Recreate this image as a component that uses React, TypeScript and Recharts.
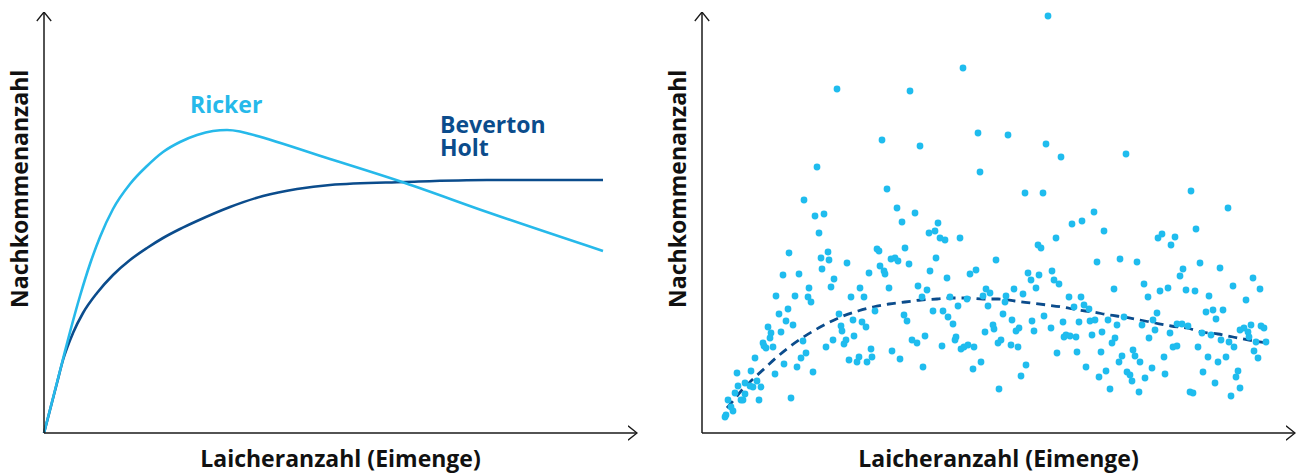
import {
  ComposedChart,
  LineChart,
  Line,
  Scatter,
  XAxis,
  YAxis,
  ZAxis,
  Label,
  ReferenceDot,
} from "recharts";

// Arbitrary units: spawners (x) and recruits (y).
const X_MAX = 593;
const Y_MAX = 421;

// Left panel: the two stock–recruitment models
const rickerCurve: [number, number][] = [
  [0, 0], [9, 35], [18, 70], [26, 101], [36, 137], [46, 169], [56, 196],
  [69, 224], [86, 249], [103, 267], [119, 281], [136, 291], [153, 298],
  [169, 302], [183, 303], [196, 301.5], [206, 299], [286, 274], [361, 250],
  [443, 221], [559, 182],
];

const bevertonHoltCurve: [number, number][] = [
  [0, 0], [6, 23], [13, 50], [19, 73], [29, 100], [39, 120], [53, 140],
  [69, 158], [86, 173], [103, 185], [119, 195], [136, 204], [153, 212],
  [186, 226], [219, 237], [253, 244], [286, 248], [361, 251], [443, 253],
  [559, 253],
];

// Right panel: observed stock–recruitment pairs
const observations: [number, number][] = [
  [135, 344], [208, 342], [261, 365], [180, 293], [218, 287], [276, 300],
  [346, 417], [306, 298], [344, 289], [359, 276], [424, 279], [323, 240],
  [341, 240], [489, 242], [526, 225], [392, 221], [370, 209], [380, 212],
  [402, 202], [354, 195], [460, 199], [456, 195], [473, 196], [494, 204],
  [115, 266], [102, 233], [113, 217], [122, 219], [117, 200], [87, 180],
  [126, 181], [119, 175], [127, 173], [145, 170], [120, 164], [81, 158],
  [97, 159], [132, 154], [129, 146], [107, 145], [74, 137], [93, 137],
  [106, 136], [109, 131], [149, 136], [86, 124], [77, 119], [137, 119],
  [84, 112], [91, 108], [66, 106], [139, 107], [79, 101], [69, 100],
  [140, 102], [68, 95], [101, 92], [131, 93], [144, 93], [142, 89],
  [61, 90], [62, 87], [64, 85], [71, 86], [124, 86], [104, 80],
  [147, 73], [53, 75], [99, 75], [82, 69], [95, 66], [35, 60],
  [49, 62], [73, 59], [111, 61], [55, 52], [43, 50], [36, 47],
  [48, 47], [51, 46], [59, 46], [33, 40], [43, 39], [26, 33],
  [39, 33], [41, 33], [57, 33], [89, 35], [29, 26], [31, 22],
  [24, 18], [23, 16],
  [278, 261], [185, 244], [195, 225], [213, 220], [200, 211], [236, 210],
  [227, 200], [233, 202], [238, 195], [243, 193], [258, 195], [175, 184],
  [177, 182], [203, 185], [189, 174], [193, 175], [196, 172], [207, 169],
  [234, 175], [294, 173], [178, 167], [182, 162], [183, 159], [167, 160],
  [228, 162], [274, 163], [268, 159], [245, 155], [158, 145], [187, 145],
  [216, 147], [225, 143], [284, 144], [288, 140], [162, 136], [220, 136],
  [248, 136], [265, 134], [281, 137], [286, 127], [256, 127], [173, 122],
  [231, 122], [241, 122], [246, 116], [202, 118], [205, 112], [151, 113],
  [160, 111], [164, 106], [251, 109], [291, 108], [292, 104], [283, 101],
  [152, 97], [223, 97], [254, 96], [253, 93], [210, 93], [215, 90],
  [296, 90], [240, 87], [259, 84], [262, 86], [266, 88], [272, 86],
  [169, 84], [190, 82], [157, 76], [155, 71], [165, 71], [170, 76],
  [198, 74], [279, 71], [221, 66], [271, 64], [297, 44],
  [336, 188], [339, 185], [395, 171], [418, 174], [435, 171], [326, 160],
  [337, 158], [350, 162], [329, 153], [352, 153], [357, 149], [312, 144],
  [334, 145], [321, 139], [304, 137], [303, 131], [367, 136], [379, 136],
  [412, 144], [442, 149], [446, 136], [372, 126], [382, 128], [387, 124],
  [301, 119], [342, 117], [422, 116], [310, 113], [330, 112], [361, 111],
  [377, 111], [388, 112], [393, 113], [406, 113], [415, 108], [440, 108],
  [314, 102], [317, 105], [332, 102], [349, 105], [390, 98], [400, 101],
  [362, 96], [364, 98], [368, 97], [374, 96], [413, 95], [410, 90],
  [447, 95], [299, 93], [309, 88], [316, 86], [355, 80], [375, 81],
  [399, 81], [431, 83], [433, 77], [420, 77], [417, 71], [438, 71],
  [324, 68], [384, 66], [319, 57], [404, 62], [397, 56], [425, 61],
  [428, 58], [430, 52], [443, 55], [450, 65], [408, 44], [437, 41],
  [469, 188], [481, 164], [478, 157], [498, 170], [518, 165], [551, 155],
  [558, 144], [531, 147], [544, 133], [458, 142], [466, 145], [484, 143],
  [493, 142], [507, 137], [455, 120], [504, 121], [511, 123], [521, 123],
  [514, 114], [451, 113], [475, 109], [480, 109], [486, 107], [453, 103],
  [468, 100], [500, 100], [509, 98], [519, 93], [527, 91], [532, 86],
  [538, 103], [542, 105], [546, 101], [547, 96], [549, 108], [559, 107],
  [562, 105], [554, 91], [564, 91], [552, 82], [556, 75], [471, 86],
  [475, 87], [496, 86], [462, 76], [506, 76], [516, 71], [524, 76],
  [463, 59], [501, 61], [536, 62], [534, 56], [513, 50], [538, 45],
  [488, 41], [491, 40], [529, 37],
];

// Right panel: dashed trend through the observations
const trendCurve: [number, number][] = [
  [25, 25], [31, 32], [40, 43], [50, 53], [63, 65], [75, 76], [86, 85],
  [100, 95], [113, 103], [126, 110], [141, 117], [156, 122], [171, 126],
  [187, 129], [203, 131], [219, 133], [235, 134], [250, 135], [266, 135],
  [281, 134], [296, 134], [313, 132], [329, 130], [345, 128], [360, 126],
  [376, 123], [391, 121], [407, 118], [422, 116], [438, 113], [453, 110],
  [469, 107], [485, 105], [500, 101], [516, 99], [531, 96], [547, 93],
  [565, 90],
];

const X_TITLE = "Laicheranzahl (Eimenge)";
const Y_TITLE = "Nachkommenanzahl";

const LIGHT_BLUE = "#26b9ea";
const DARK_BLUE = "#0b4c8c";
const DOT_BLUE = "#1fbcee";
const AXIS_COLOR = "#1a1a1a";

const toPoints = (rows: [number, number][]) => rows.map(([x, y]) => ({ x, y }));

const titleStyle = {
  fontFamily: "'Open Sans', 'Noto Sans', sans-serif",
  fontWeight: 700,
  fontSize: 23,
  fill: "#111",
};

const XTitle = (props: any) => {
  const { x, y, width } = props.viewBox;
  return (
    <text x={x + width / 2} y={y + 34} textAnchor="middle" style={titleStyle}>
      {X_TITLE}
    </text>
  );
};

const YTitle = (props: any) => {
  const { x, y, width, height } = props.viewBox;
  const tx = x + width - 15.5;
  const ty = y + height * 0.42;
  return (
    <text
      x={tx}
      y={ty}
      transform={`rotate(-90 ${tx} ${ty})`}
      textAnchor="middle"
      style={titleStyle}
    >
      {Y_TITLE}
    </text>
  );
};

const modelLabel = (text: string, color: string) => (p: any) => (
  <text x={p.viewBox.x} y={p.viewBox.y} style={{ ...titleStyle, fill: color }}>
    {text}
  </text>
);

const xAxisLine = { stroke: AXIS_COLOR, strokeWidth: 1.5, markerEnd: "url(#axisArrow)" };
const yAxisLine = { stroke: AXIS_COLOR, strokeWidth: 1.5, markerStart: "url(#axisArrow)" };

export default function App() {
  const ricker = toPoints(rickerCurve);
  const bh = toPoints(bevertonHoltCurve);
  const obs = toPoints(observations);
  const trend = toPoints(trendCurve);

  return (
    <div style={{ position: "absolute", left: 0, top: 0, width: 1302, height: 473, background: "#fff" }}>
      <svg width={0} height={0} style={{ position: "absolute" }}>
        <defs>
          <marker
            id="axisArrow"
            viewBox="0 0 10 16"
            refX={9.5}
            refY={8}
            markerWidth={10}
            markerHeight={16}
            markerUnits="userSpaceOnUse"
            orient="auto-start-reverse"
          >
            <path d="M0.5,0.8 L9.5,8 L0.5,15.2" fill="none" stroke={AXIS_COLOR} strokeWidth={1.3} />
          </marker>
        </defs>
      </svg>

      <div style={{ position: "absolute", left: 0, top: 0 }}>
        <LineChart width={651} height={473} margin={{ top: 12, right: 14, bottom: 39, left: 43 }}>
          <XAxis
            type="number"
            dataKey="x"
            domain={[0, X_MAX]}
            tick={false}
            tickLine={false}
            height={1}
            axisLine={xAxisLine}
          >
            <Label content={XTitle} />
          </XAxis>
          <YAxis
            type="number"
            dataKey="y"
            domain={[0, Y_MAX]}
            tick={false}
            tickLine={false}
            width={1}
            axisLine={yAxisLine}
          >
            <Label content={YTitle} />
          </YAxis>
          <Line
            data={bh}
            dataKey="y"
            type="monotone"
            stroke={DARK_BLUE}
            strokeWidth={2.6}
            dot={false}
            isAnimationActive={false}
          />
          <Line
            data={ricker}
            dataKey="y"
            type="monotone"
            stroke={LIGHT_BLUE}
            strokeWidth={2.6}
            dot={false}
            isAnimationActive={false}
          />
          <ReferenceDot x={146} y={320} r={0} fill="none" stroke="none" label={modelLabel("Ricker", LIGHT_BLUE)} />
          <ReferenceDot x={396} y={300} r={0} fill="none" stroke="none" label={modelLabel("Beverton", DARK_BLUE)} />
          <ReferenceDot x={396} y={277} r={0} fill="none" stroke="none" label={modelLabel("Holt", DARK_BLUE)} />
        </LineChart>
      </div>

      <div style={{ position: "absolute", left: 651, top: 0 }}>
        <ComposedChart width={651} height={473} margin={{ top: 12, right: 7, bottom: 39, left: 50 }}>
          <XAxis
            type="number"
            dataKey="x"
            domain={[0, X_MAX]}
            tick={false}
            tickLine={false}
            height={1}
            axisLine={xAxisLine}
          >
            <Label content={XTitle} />
          </XAxis>
          <YAxis
            type="number"
            dataKey="y"
            domain={[0, Y_MAX]}
            tick={false}
            tickLine={false}
            width={1}
            axisLine={yAxisLine}
          >
            <Label content={YTitle} />
          </YAxis>
          <ZAxis range={[36, 36]} />
          <Line
            data={trend}
            dataKey="y"
            type="monotone"
            stroke={DARK_BLUE}
            strokeWidth={2.8}
            strokeDasharray="9 6"
            dot={false}
            isAnimationActive={false}
          />
          <Scatter data={obs} dataKey="y" fill={DOT_BLUE} isAnimationActive={false} />
        </ComposedChart>
      </div>
    </div>
  );
}
